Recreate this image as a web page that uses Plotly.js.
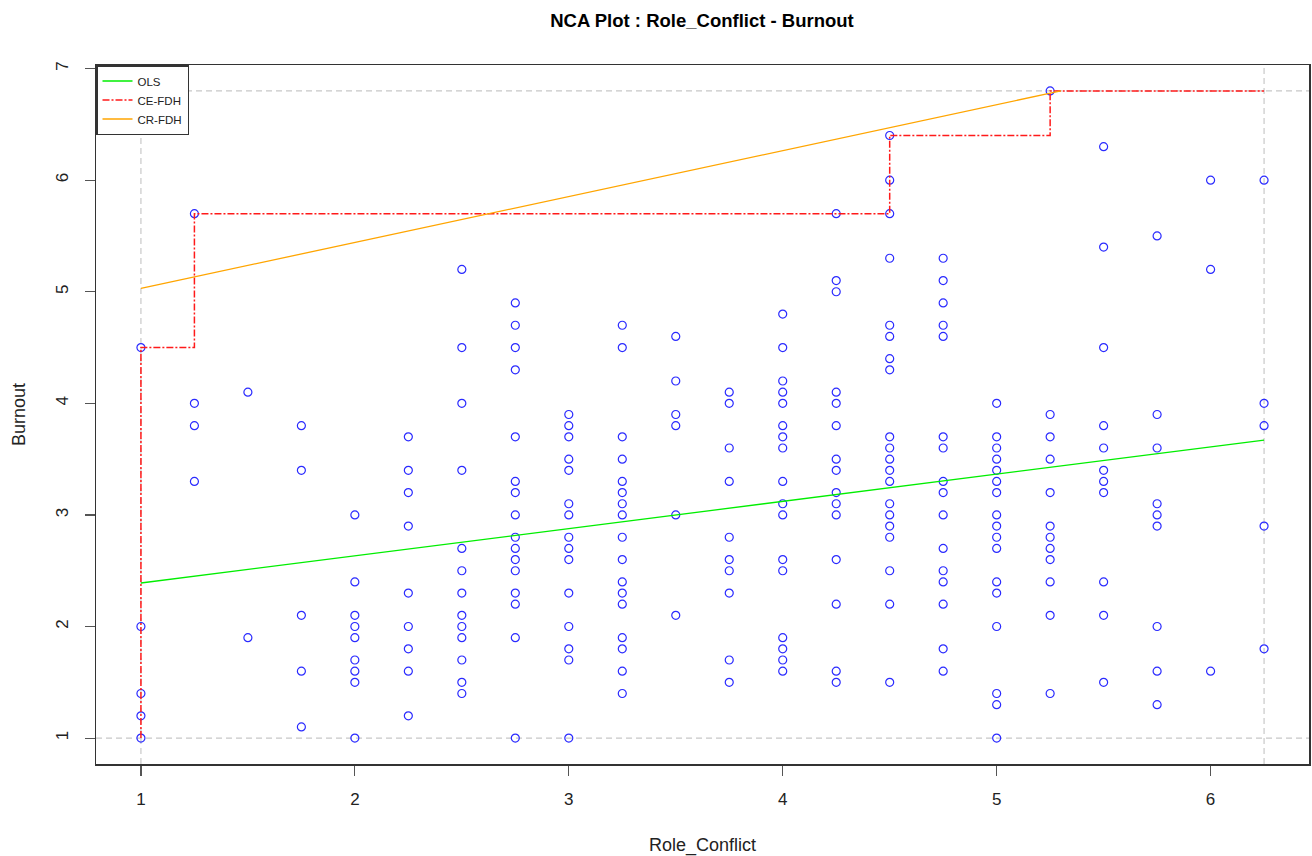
<!DOCTYPE html>
<html>
<head>
<meta charset="utf-8">
<script src="https://cdn.plot.ly/plotly-3.0.1.min.js"></script>
<style>html,body{margin:0;padding:0;background:#fff;}#chart{width:1312px;height:856px;}</style>
</head>
<body>
<div id="chart"></div>
<script>
// Observed points: Role_Conflict level -> Burnout values
const xLevels = [1, 1.25, 1.5, 1.75, 2, 2.25, 2.5, 2.75, 3, 3.25, 3.5, 3.75, 4, 4.25, 4.5, 4.75, 5, 5.25, 5.5, 5.75, 6, 6.25];
const burnoutAt1 = [4.5, 2.0, 1.4, 1.2, 1.0];
const burnoutAt1_25 = [5.7, 4.0, 3.8, 3.3];
const burnoutAt1_5 = [4.1, 1.9];
const burnoutAt1_75 = [3.8, 3.4, 2.1, 1.6, 1.1];
const burnoutAt2 = [3.0, 2.4, 2.1, 2.0, 1.9, 1.7, 1.6, 1.5, 1.0];
const burnoutAt2_25 = [3.7, 3.4, 3.2, 2.9, 2.3, 2.0, 1.8, 1.6, 1.2];
const burnoutAt2_5 = [5.2, 4.5, 4.0, 3.4, 2.7, 2.5, 2.3, 2.1, 2.0, 1.9, 1.7, 1.5, 1.4];
const burnoutAt2_75 = [4.9, 4.7, 4.5, 4.3, 3.7, 3.3, 3.2, 3.0, 2.8, 2.7, 2.6, 2.5, 2.3, 2.2, 1.9, 1.0];
const burnoutAt3 = [3.9, 3.8, 3.7, 3.5, 3.4, 3.1, 3.0, 2.8, 2.7, 2.6, 2.3, 2.0, 1.8, 1.7, 1.0];
const burnoutAt3_25 = [4.7, 4.5, 3.7, 3.5, 3.3, 3.2, 3.1, 3.0, 2.8, 2.6, 2.4, 2.3, 2.2, 1.9, 1.8, 1.6, 1.4];
const burnoutAt3_5 = [4.6, 4.2, 3.9, 3.8, 3.0, 2.1];
const burnoutAt3_75 = [4.1, 4.0, 3.6, 3.3, 2.8, 2.6, 2.5, 2.3, 1.7, 1.5];
const burnoutAt4 = [4.8, 4.5, 4.2, 4.1, 4.0, 3.8, 3.7, 3.6, 3.3, 3.1, 3.0, 2.6, 2.5, 1.9, 1.8, 1.7, 1.6];
const burnoutAt4_25 = [5.7, 5.1, 5.0, 4.1, 4.0, 3.8, 3.5, 3.4, 3.2, 3.1, 3.0, 2.6, 2.2, 1.6, 1.5];
const burnoutAt4_5 = [6.4, 6.0, 5.7, 5.3, 4.7, 4.6, 4.4, 4.3, 3.7, 3.6, 3.5, 3.4, 3.3, 3.1, 3.0, 2.9, 2.8, 2.5, 2.2, 1.5];
const burnoutAt4_75 = [5.3, 5.1, 4.9, 4.7, 4.6, 3.7, 3.6, 3.3, 3.2, 3.0, 2.7, 2.5, 2.4, 2.2, 1.8, 1.6];
const burnoutAt5 = [4.0, 3.7, 3.6, 3.5, 3.4, 3.3, 3.2, 3.0, 2.9, 2.8, 2.7, 2.4, 2.3, 2.0, 1.4, 1.3, 1.0];
const burnoutAt5_25 = [6.8, 3.9, 3.7, 3.5, 3.2, 2.9, 2.8, 2.7, 2.6, 2.4, 2.1, 1.4];
const burnoutAt5_5 = [6.3, 5.4, 4.5, 3.8, 3.6, 3.4, 3.3, 3.2, 2.4, 2.1, 1.5];
const burnoutAt5_75 = [5.5, 3.9, 3.6, 3.1, 3.0, 2.9, 2.0, 1.6, 1.3];
const burnoutAt6 = [6.0, 5.2, 1.6];
const burnoutAt6_25 = [6.0, 4.0, 3.8, 2.9, 1.8];
const burnoutByLevel = [burnoutAt1, burnoutAt1_25, burnoutAt1_5, burnoutAt1_75, burnoutAt2, burnoutAt2_25,
  burnoutAt2_5, burnoutAt2_75, burnoutAt3, burnoutAt3_25, burnoutAt3_5, burnoutAt3_75, burnoutAt4,
  burnoutAt4_25, burnoutAt4_5, burnoutAt4_75, burnoutAt5, burnoutAt5_25, burnoutAt5_5, burnoutAt5_75,
  burnoutAt6, burnoutAt6_25];

// Ceiling / regression lines
const olsX = [1, 6.25];
const olsY = [2.39, 3.67];
const ceFdhX = [1, 1, 1.25, 4.5, 5.25, 6.25];
const ceFdhY = [1, 4.5, 5.7, 6.4, 6.8, 6.8];
const crFdhX = [1, 5.30];
const crFdhY = [5.03, 6.8];

// Scope box
const scopeX = [1, 6.25];
const scopeY = [1, 6.8];

const xTicks = [1, 2, 3, 4, 5, 6];
const yTicks = [1, 2, 3, 4, 5, 6, 7];

const ptsX = [], ptsY = [];
xLevels.forEach((lv, i) => burnoutByLevel[i].forEach(v => { ptsX.push(lv); ptsY.push(v); }));

const FONT = 'Liberation Sans, Arial, sans-serif';

const traces = [
  {x: ptsX, y: ptsY, type: 'scatter', mode: 'markers', showlegend: false,
   marker: {symbol: 'circle-open', size: 8, color: '#2a2aff', line: {width: 1.2, color: '#2a2aff'}}, hoverinfo: 'x+y'},
  {x: olsX, y: olsY, type: 'scatter', mode: 'lines', name: 'OLS', line: {color: '#00ee00', width: 1.3}},
  {x: ceFdhX, y: ceFdhY, type: 'scatter', mode: 'lines', name: 'CE-FDH', line: {color: '#ff1a1a', width: 1.5, shape: 'hv', dash: '7px,2px,2px,2px'}},
  {x: crFdhX, y: crFdhY, type: 'scatter', mode: 'lines', name: 'CR-FDH', line: {color: '#ffa500', width: 1.3}}
];

const scopeStyle = {color: '#c8c8c8', width: 1.2, dash: '6px,4px'};
const shapes = [];
scopeX.forEach(v => shapes.push({type: 'line', xref: 'x', yref: 'paper', x0: v, x1: v, y0: 0, y1: 1, line: scopeStyle, layer: 'below'}));
scopeY.forEach(v => shapes.push({type: 'line', xref: 'paper', yref: 'y', x0: 0, x1: 1, y0: v, y1: v, line: scopeStyle, layer: 'below'}));

const layout = {
  width: 1312, height: 856,
  paper_bgcolor: '#ffffff', plot_bgcolor: '#ffffff',
  margin: {l: 96, r: 3, t: 65, b: 92, pad: 0},
  font: {family: FONT, color: '#000'},
  title: {text: '<b>NCA Plot : Role_Conflict - Burnout</b>', font: {size: 18.5, family: FONT, color: '#000'},
          x: 702 / 1312, xanchor: 'center', xref: 'container', y: 1 - 21 / 856, yanchor: 'middle', yref: 'container'},
  xaxis: {range: [0.79, 6.46], tickvals: xTicks, ticktext: xTicks.map(String), ticks: 'outside', ticklen: 10,
          tickcolor: '#555', tickwidth: 1.2, showgrid: false, zeroline: false, showline: true, mirror: true,
          linecolor: '#333', linewidth: 1.5, tickfont: {size: 17, family: FONT, color: '#222'},
          ticklabelstandoff: 9,
          title: {text: 'Role_Conflict', font: {size: 18, family: FONT, color: '#222'}, standoff: 34}},
  yaxis: {range: [0.768, 7.032], tickvals: yTicks, ticktext: yTicks.map(String), ticks: 'outside', ticklen: 10,
          tickcolor: '#555', tickwidth: 1.2, showgrid: false, zeroline: false, showline: true, mirror: true,
          linecolor: '#333', linewidth: 1.5, tickfont: {size: 17, family: FONT, color: '#222'}, tickangle: -90,
          ticklabelstandoff: 10,
          title: {text: 'Burnout', font: {size: 18, family: FONT, color: '#222'}, standoff: 22}},
  legend: {x: 0, y: 1, xanchor: 'left', yanchor: 'top', xref: 'paper', yref: 'paper', bgcolor: '#ffffff',
           bordercolor: '#333', borderwidth: 1.5, font: {size: 11.5, family: FONT, color: '#222'},
           itemwidth: 30, tracegroupgap: 0},
  shapes: shapes,
  showlegend: true
};

Plotly.newPlot('chart', traces, layout, {displayModeBar: false, staticPlot: true});
</script>
</body>
</html>
